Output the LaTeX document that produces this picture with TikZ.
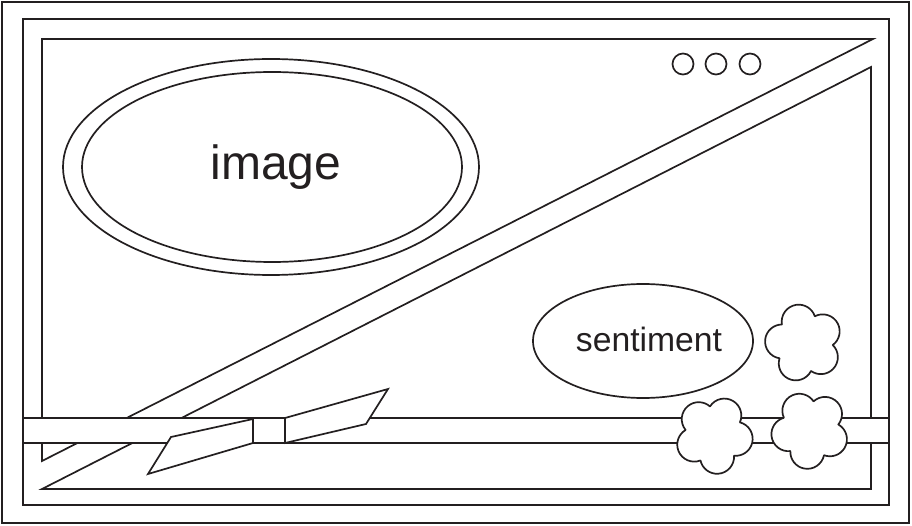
\documentclass[tikz,border=0pt]{standalone}
\usepackage{fontspec}
\setmainfont{Liberation Sans}
\usetikzlibrary{calc}
\definecolor{inkline}{RGB}{35,31,32}
\tikzset{
  outline/.style={draw=inkline, line width=1.7pt},
  cover/.style={outline, fill=white},
  flower/.style={cover, line join=round},
}

\begin{document}
\begin{tikzpicture}[x=1pt, y=-1pt]
\useasboundingbox (0,0) rectangle (912,526);

% card frames
\draw[outline] (2,2) rectangle (909,523);
\draw[outline] (23,19) rectangle (889,505);

% panel split by the diagonal band
\draw[outline] (42,39) -- (873,39) -- (42,461) -- cycle;
\draw[outline] (42,489) -- (871,489) -- (871,67) -- cycle;

% image mat
\draw[outline] (271,167) ellipse [x radius=208, y radius=108];
\draw[outline] (272,167) ellipse [x radius=190, y radius=95];
\node[font=\fontsize{48}{48}\selectfont, text=inkline, anchor=base] (image) at (276,180) {image};

% dots
\foreach \x in {683,716,750}
  \draw[outline] (\x,64) circle (10.5);

% sentiment
\draw[outline] (643,341) ellipse [x radius=110, y radius=57];
\node[font=\fontsize{33.7}{34}\selectfont, text=inkline, anchor=base] (sentiment) at (649,351) {sentiment};

% ribbon
\draw[cover] (23,418) rectangle (889,443);

% bow
\draw[cover] (253,419) -- (171,437) -- (148,474) -- (253,443) -- cycle;
\draw[cover] (285,418) -- (388,389) -- (366,424) -- (285,443) -- cycle;
\draw[cover] (253,418) rectangle (285,443);

% flowers
\foreach \cx/\cy/\turn in {804/343/40, 714/435/10, 810/430/25} {
  \draw[flower] ($(\cx,\cy)+(\turn-36:28.84)$)
    \foreach \k in {0,...,4} {
      arc[start angle=\turn+72*\k-85.5, end angle=\turn+72*\k+85.5, radius=17]
    } -- cycle;
}
\end{tikzpicture}
\end{document}
